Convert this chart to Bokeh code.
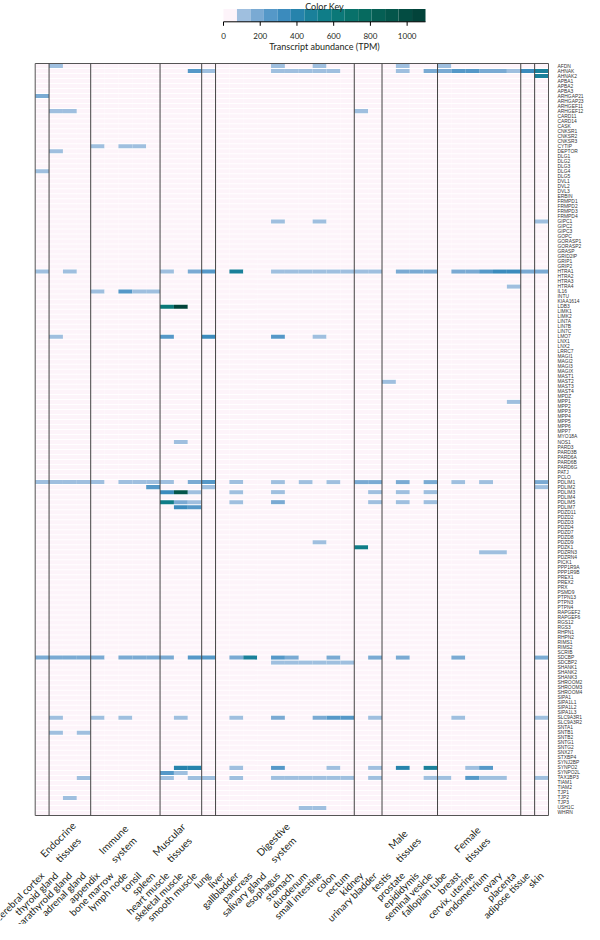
import math
import pandas as pd
from bokeh.plotting import figure
from bokeh.models import Range1d, LinearColorMapper, ColumnDataSource
from bokeh.embed import file_html
from bokeh.resources import INLINE
from bokeh.core.properties import value

tissues = ["cerebral cortex", "thyroid gland", "parathyroid gland", "adrenal gland",
           "appendix", "bone marrow", "lymph node", "tonsil", "spleen",
           "heart muscle", "skeletal muscle", "smooth muscle", "lung", "liver",
           "gallbladder", "pancreas", "salivary gland", "esophagus", "stomach",
           "duodenum", "small intestine", "colon", "rectum", "kidney",
           "urinary bladder", "testis", "prostate", "epididymis", "seminal vesicle",
           "fallopian tube", "breast", "cervix, uterine", "endometrium", "ovary",
           "placenta", "adipose tissue", "skin"]

genes = ["AFDN", "AHNAK", "AHNAK2", "APBA1", "APBA2", "APBA3", "ARHGAP21", "ARHGAP23",
         "ARHGEF11", "ARHGEF12", "CARD11", "CARD14", "CASK", "CNKSR1", "CNKSR2", "CNKSR3",
         "CYTIP", "DEPTOR", "DLG1", "DLG2", "DLG3", "DLG4", "DLG5", "DVL1", "DVL2", "DVL3",
         "ERBIN", "FRMPD1", "FRMPD2", "FRMPD3", "FRMPD4", "GIPC1", "GIPC2", "GIPC3", "GOPC",
         "GORASP1", "GORASP2", "GRASP", "GRID2IP", "GRIP1", "GRIP2", "HTRA1", "HTRA2",
         "HTRA3", "HTRA4", "IL16", "INTU", "KIAA1614", "LDB3", "LIMK1", "LIMK2", "LIN7A",
         "LIN7B", "LIN7C", "LMO7", "LNX1", "LNX2", "LRRC7", "MAGI1", "MAGI2", "MAGI3",
         "MAGIX", "MAST1", "MAST2", "MAST3", "MAST4", "MPDZ", "MPP1", "MPP2", "MPP3",
         "MPP4", "MPP5", "MPP6", "MPP7", "MYO18A", "NOS1", "PARD3", "PARD3B", "PARD6A",
         "PARD6B", "PARD6G", "PATJ", "PCLO", "PDLIM1", "PDLIM2", "PDLIM3", "PDLIM4",
         "PDLIM5", "PDLIM7", "PDZD11", "PDZD2", "PDZD3", "PDZD4", "PDZD7", "PDZD8",
         "PDZD9", "PDZK1", "PDZRN3", "PDZRN4", "PICK1", "PPP1R9A", "PPP1R9B", "PREX1",
         "PREX2", "PRX", "PSMD9", "PTPN13", "PTPN3", "PTPN4", "RAPGEF2", "RAPGEF6",
         "RGS12", "RGS3", "RHPN1", "RHPN2", "RIMS1", "RIMS2", "SCRIB", "SDCBP", "SDCBP2",
         "SHANK1", "SHANK2", "SHANK3", "SHROOM2", "SHROOM3", "SHROOM4", "SIPA1",
         "SIPA1L1", "SIPA1L2", "SIPA1L3", "SLC9A3R1", "SLC9A3R2", "SNTA1", "SNTB1",
         "SNTB2", "SNTG1", "SNTG2", "SNX27", "STXBP4", "SYNJ2BP", "SYNPO2", "SYNPO2L",
         "TAX1BP3", "TIAM1", "TIAM2", "TJP1", "TJP2", "TJP3", "USH1C", "WHRN"]

group_names = ["Endocrine\ntissues", "Immune\nsystem", "Muscular\ntissues",
               "Digestive\nsystem", "Male\ntissues", "Female\ntissues"]
group_first = ["thyroid gland", "appendix", "heart muscle", "liver", "testis", "fallopian tube"]
group_last = ["adrenal gland", "spleen", "smooth muscle", "rectum", "seminal vesicle", "placenta"]
divider_after = ["cerebral cortex", "adrenal gland", "spleen", "smooth muscle", "lung",
                 "rectum", "urinary bladder", "seminal vesicle", "placenta", "adipose tissue"]

key_ticks = [0, 200, 400, 600, 800, 1000]
key_max = 1100
palette = ["#fdf4fa", "#9fbfdf", "#7aaad3", "#5598c8", "#3b8bbd", "#2683ac", "#1a809a",
           "#0f7d88", "#0b7878", "#08716a", "#066a5f", "#055f54", "#04564b", "#034c42",
           "#02433a"]

# expressed cells (TPM); every other cell is ~0
cell_gene = [
    "AFDN", "AFDN", "AFDN", "AFDN", "AFDN",
    "AHNAK", "AHNAK", "AHNAK", "AHNAK", "AHNAK", "AHNAK", "AHNAK", "AHNAK", "AHNAK",
    "AHNAK", "AHNAK", "AHNAK", "AHNAK", "AHNAK", "AHNAK", "AHNAK", "AHNAK",
    "AHNAK2",
    "ARHGAP21",
    "ARHGEF12", "ARHGEF12", "ARHGEF12",
    "CYTIP", "CYTIP", "CYTIP",
    "DEPTOR",
    "DLG4",
    "GIPC1", "GIPC1", "GIPC1",
    "HTRA1", "HTRA1", "HTRA1", "HTRA1", "HTRA1", "HTRA1", "HTRA1", "HTRA1", "HTRA1",
    "HTRA1", "HTRA1", "HTRA1", "HTRA1", "HTRA1", "HTRA1", "HTRA1", "HTRA1", "HTRA1",
    "HTRA1", "HTRA1", "HTRA1", "HTRA1", "HTRA1", "HTRA1",
    "HTRA4",
    "IL16", "IL16", "IL16", "IL16",
    "LDB3", "LDB3",
    "LMO7", "LMO7", "LMO7", "LMO7", "LMO7",
    "MAST2",
    "MPP1",
    "NOS1",
    "PDLIM1", "PDLIM1", "PDLIM1", "PDLIM1", "PDLIM1", "PDLIM1", "PDLIM1", "PDLIM1",
    "PDLIM1", "PDLIM1", "PDLIM1", "PDLIM1", "PDLIM1", "PDLIM1", "PDLIM1", "PDLIM1",
    "PDLIM1", "PDLIM1", "PDLIM1", "PDLIM1", "PDLIM1", "PDLIM1",
    "PDLIM2", "PDLIM2", "PDLIM2",
    "PDLIM3", "PDLIM3", "PDLIM3", "PDLIM3", "PDLIM3", "PDLIM3", "PDLIM3", "PDLIM3",
    "PDLIM5", "PDLIM5", "PDLIM5", "PDLIM5", "PDLIM5", "PDLIM5", "PDLIM5", "PDLIM5",
    "PDLIM7", "PDLIM7",
    "PDZD9",
    "PDZK1",
    "PDZRN3", "PDZRN3",
    "SDCBP", "SDCBP", "SDCBP", "SDCBP", "SDCBP", "SDCBP", "SDCBP", "SDCBP", "SDCBP",
    "SDCBP", "SDCBP", "SDCBP", "SDCBP", "SDCBP", "SDCBP", "SDCBP", "SDCBP", "SDCBP",
    "SDCBP", "SDCBP",
    "SDCBP2", "SDCBP2", "SDCBP2", "SDCBP2", "SDCBP2", "SDCBP2",
    "SLC9A3R1", "SLC9A3R1", "SLC9A3R1", "SLC9A3R1", "SLC9A3R1", "SLC9A3R1", "SLC9A3R1",
    "SLC9A3R1", "SLC9A3R1", "SLC9A3R1", "SLC9A3R1", "SLC9A3R1",
    "SNTB1", "SNTB1",
    "SYNPO2", "SYNPO2", "SYNPO2", "SYNPO2", "SYNPO2", "SYNPO2", "SYNPO2", "SYNPO2",
    "SYNPO2", "SYNPO2",
    "SYNPO2L", "SYNPO2L",
    "TAX1BP3", "TAX1BP3", "TAX1BP3", "TAX1BP3", "TAX1BP3", "TAX1BP3", "TAX1BP3",
    "TAX1BP3", "TAX1BP3", "TAX1BP3", "TAX1BP3", "TAX1BP3", "TAX1BP3", "TAX1BP3",
    "TAX1BP3", "TAX1BP3", "TAX1BP3", "TAX1BP3",
    "TJP2",
    "USH1C", "USH1C",
]
cell_tissue = [
    1, 17, 20, 26, 29,
    11, 12, 17, 18, 19, 20, 21, 26, 28, 29, 30, 31, 32, 33, 34, 35, 36,
    36,
    0,
    1, 2, 23,
    4, 6, 7,
    1,
    0,
    17, 20, 36,
    0, 2, 9, 11, 12, 14, 17, 18, 19, 20, 21, 22, 23, 24, 26, 27, 28, 30, 31, 32, 33, 34,
    35, 36,
    34,
    4, 6, 7, 8,
    9, 10,
    1, 9, 12, 17, 20,
    25,
    34,
    10,
    0, 1, 2, 3, 4, 6, 7, 8, 9, 11, 12, 14, 17, 19, 21, 23, 24, 26, 28, 30, 32, 36,
    8, 12, 36,
    9, 10, 11, 14, 17, 24, 26, 28,
    9, 10, 11, 14, 17, 24, 26, 28,
    10, 11,
    20,
    23,
    32, 33,
    0, 1, 2, 3, 4, 6, 7, 8, 9, 11, 12, 14, 15, 17, 18, 21, 24, 26, 30, 36,
    17, 18, 19, 20, 21, 22,
    1, 4, 6, 10, 14, 17, 20, 21, 22, 24, 30, 36,
    1, 3,
    10, 11, 14, 17, 21, 24, 26, 28, 31, 32,
    9, 10,
    3, 9, 11, 12, 14, 17, 18, 19, 20, 21, 22, 24, 28, 29, 31, 32, 33, 36,
    2,
    19, 20,
]
cell_tpm = [
    110, 110, 110, 110, 110,
    250, 110, 110, 110, 110, 110, 110, 110, 150, 150, 250, 250, 180, 180, 120, 300, 450,
    450,
    180,
    110, 110, 110,
    110, 110, 110,
    110,
    110,
    110, 110, 110,
    110, 110, 110, 200, 250, 450, 110, 110, 110, 110, 110, 110, 110, 110, 180, 180, 180,
    150, 150, 250, 300, 300, 150, 150,
    110,
    110, 250, 110, 110,
    650, 1050,
    110, 250, 320, 250, 110,
    110,
    110,
    110,
    110, 110, 110, 110, 110, 110, 110, 110, 110, 180, 250, 110, 110, 110, 110, 180, 180,
    180, 180, 110, 110, 180,
    250, 110, 110,
    320, 900, 110, 110, 110, 110, 110, 110,
    550, 180, 110, 110, 180, 110, 110, 110,
    350, 250,
    110,
    550,
    110, 110,
    180, 180, 180, 180, 180, 180, 180, 180, 180, 250, 250, 180, 450, 250, 180, 180, 180,
    180, 180, 180,
    110, 110, 110, 110, 110, 110,
    110, 110, 110, 110, 110, 180, 180, 250, 250, 110, 110, 110,
    110, 110,
    400, 400, 110, 250, 110, 110, 400, 500, 110, 250,
    280, 110,
    110, 110, 110, 110, 110, 110, 110, 110, 110, 110, 110, 110, 110, 110, 250, 110, 110, 110,
    110,
    110, 110,
]
assert len(cell_gene) == len(cell_tissue) == len(cell_tpm)

# ------------------------------------------------------------------ layout constants
W, H = 584, 924                 # canvas (page minus 8px margin)
X0, X1 = 34.7, 548.0            # heatmap frame, canvas px
Y0, Y1 = 63.0, 815.0            # heatmap top / bottom, canvas px
NC, NR = len(tissues), len(genes)
cw = (X1 - X0) / NC             # px per tissue column
rh = (Y1 - Y0) / NR             # px per gene row
BAR_L, BAR_R = 223.0, 425.0     # colour key bar, canvas px
BAR_T, BAR_B = 8.5, 21.3

def ux(px):   # canvas px -> column units
    return (px - X0) / cw

def uy(py):   # canvas px -> row units (0 at heatmap bottom)
    return (Y1 - py) / rh

tpm_per_px = key_max / (BAR_R - BAR_L)

def utpm(px):
    return (px - BAR_L) * tpm_per_px

# ------------------------------------------------------------------ data grid
grid = pd.DataFrame(0.0, index=genes, columns=tissues)
for g, t, v in zip(cell_gene, cell_tissue, cell_tpm):
    grid.loc[g, tissues[t]] = v
long = grid.stack().reset_index()
long.columns = ["gene", "tissue", "tpm"]
long["cx"] = [tissues.index(t) + 0.5 for t in long["tissue"]]
long["cy"] = [NR - genes.index(g) - 0.5 for g in long["gene"]]
src = ColumnDataSource(long)

mapper = LinearColorMapper(palette=palette, low=0, high=key_max)
FONT = "Lato"
GENE_FONT = "Liberation Sans"
INK = "#231f20"

p = figure(width=W, height=H, x_range=Range1d(ux(0), ux(W)), y_range=Range1d(uy(H), uy(0)),
           toolbar_location=None, output_backend="svg",
           min_border=0, min_border_left=0, min_border_right=0,
           min_border_top=0, min_border_bottom=0)
p.title = None
p.axis.visible = False
p.grid.visible = False
p.outline_line_color = None
p.background_fill_color = "white"
p.extra_x_ranges = {"tpm": Range1d(utpm(0), utpm(W))}

# ------------------------------------------------------------------ heatmap cells
p.rect(x="cx", y="cy", width=1, height=0.8, source=src,
       fill_color={"field": "tpm", "transform": mapper}, line_color=None)

# frame and group dividers
p.rect(x=[NC / 2], y=[NR / 2], width=NC, height=NR, fill_color=None,
       line_color="#555555", line_width=1)
div_x = [tissues.index(t) + 1 for t in divider_after]
p.segment(x0=div_x, y0=[0] * len(div_x), x1=div_x, y1=[NR] * len(div_x),
          line_color="#444444", line_width=1)

# gene labels (right)
p.text(x=[NC + (9.0 / cw)] * NR, y=[NR - i - 0.5 for i in range(NR)], text=genes,
       text_align="left", text_baseline="middle", text_font=value(GENE_FONT),
       text_font_size="4.9px", text_color="#333333")

# tissue labels (bottom, rotated)
p.text(x=[i + 0.5 for i in range(NC)], y=[-58 / rh] * NC, text=tissues,
       angle=math.pi / 4, text_align="right", text_baseline="middle",
       text_font=value(FONT), text_font_size="9.8px", text_color=INK)

# group labels
gx = [(tissues.index(a) + tissues.index(b) + 1) / 2 - 0.5
      for a, b in zip(group_first, group_last)]
p.text(x=gx, y=[-29 / rh] * len(gx), text=group_names, angle=math.pi / 4,
       text_align="center", text_baseline="middle", text_font=value(FONT),
       text_font_size="10.2px", text_color=INK, text_line_height=1.2)

# ------------------------------------------------------------------ colour key
step = key_max / len(palette)
p.quad(left=[i * step for i in range(len(palette))],
       right=[(i + 1) * step for i in range(len(palette))],
       bottom=uy(BAR_B), top=uy(BAR_T), fill_color=palette, line_color=None,
       x_range_name="tpm")
p.segment(x0=[0], y0=[uy(BAR_B)], x1=[key_max], y1=[uy(BAR_B)], line_color="black",
          line_width=1, x_range_name="tpm")
p.segment(x0=key_ticks, y0=[uy(BAR_B)] * len(key_ticks), x1=key_ticks,
          y1=[uy(BAR_B + 4)] * len(key_ticks), line_color="black", line_width=1,
          x_range_name="tpm")
p.text(x=key_ticks, y=[uy(35.3)] * len(key_ticks), text=[str(t) for t in key_ticks],
       text_align="center", text_baseline="middle", text_font=value(FONT),
       text_font_size="8px", text_color=INK, x_range_name="tpm")
p.text(x=[key_max / 2], y=[uy(45.5)], text=["Transcript abundance (TPM)"],
       text_align="center", text_baseline="middle", text_font=value(FONT),
       text_font_size="9px", text_color=INK, x_range_name="tpm")
p.text(x=[key_max / 2], y=[uy(0.5)], text=["Color Key"], text_align="center",
       text_baseline="top", text_font=value(FONT), text_font_size="9px",
       text_color=INK, x_range_name="tpm")

open("out.html", "w").write(file_html(p, INLINE))
